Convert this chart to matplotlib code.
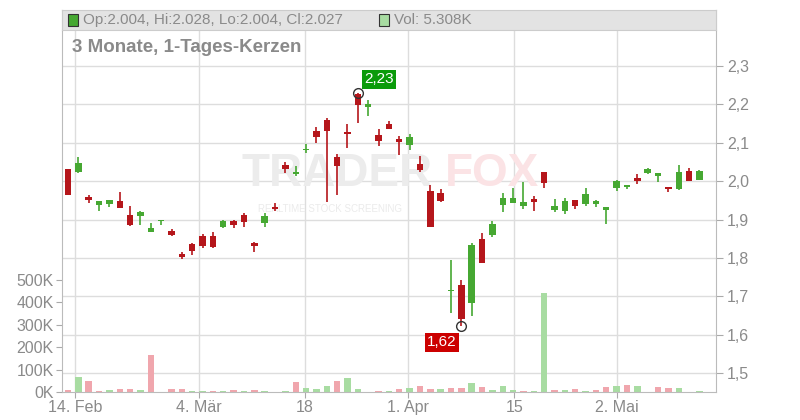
import matplotlib
matplotlib.use("Agg")
import matplotlib.pyplot as plt
from matplotlib.patches import Rectangle
import numpy as np

plt.rcParams['font.family'] = ['Liberation Sans', 'DejaVu Sans']

opens  = [2.031,2.024,1.958,1.938,1.941,1.948,1.911,1.910,1.868,1.897,1.870,1.810,1.836,1.857,1.857,1.880,1.896,1.911,1.838,1.891,
          1.932,2.043,2.019,2.082,2.130,2.159,2.063,2.128,2.226,2.193,2.120,2.150,2.110,2.095,2.044,1.974,1.969,1.713,1.731,1.683,
          1.849,1.859,1.938,1.943,1.935,1.954,2.023,1.925,1.923,1.950,1.941,1.941,1.925,1.983,1.986,2.008,2.022,2.014,1.984,1.980,2.026,2.004]
highs  = [2.033,2.063,1.963,1.948,1.950,1.971,1.935,1.922,1.890,1.898,1.875,1.815,1.840,1.862,1.867,1.898,1.898,1.916,1.841,1.917,
          1.944,2.050,2.039,2.097,2.141,2.165,2.070,2.150,2.229,2.211,2.136,2.157,2.117,2.123,2.065,1.990,1.979,1.794,1.744,1.840,
          1.864,1.896,1.969,1.983,1.998,1.962,2.023,1.953,1.956,1.950,1.982,1.950,1.932,2.003,1.990,2.020,2.034,2.021,1.984,2.042,2.034,2.028]
lows   = [1.965,2.022,1.943,1.923,1.933,1.930,1.883,1.886,1.868,1.886,1.857,1.797,1.808,1.826,1.826,1.877,1.878,1.881,1.816,1.881,
          1.923,2.022,2.013,2.074,2.100,1.946,1.963,2.087,2.152,2.170,2.092,2.137,2.069,2.082,2.024,1.881,1.946,1.657,1.624,1.650,
          1.787,1.855,1.920,1.942,1.928,1.923,1.983,1.920,1.914,1.927,1.935,1.933,1.889,1.975,1.980,1.993,2.019,1.998,1.972,1.978,2.001,2.004]
closes = [1.965,2.047,1.951,1.948,1.950,1.930,1.886,1.919,1.878,1.898,1.860,1.803,1.818,1.831,1.829,1.896,1.886,1.894,1.831,1.909,
          1.928,2.032,2.023,2.085,2.116,2.131,2.040,2.123,2.199,2.200,2.105,2.137,2.103,2.116,2.029,1.881,1.949,1.716,1.640,1.833,
          1.788,1.888,1.957,1.957,1.945,1.946,1.996,1.935,1.948,1.936,1.966,1.948,1.932,2.000,1.990,2.001,2.031,2.021,1.980,2.023,2.001,2.027]
volumes = [9,67,49,5,9,13,13,9,165,0,13,13,5,5,5,5,9,5,9,5,
           0,5,45,18,13,27,49,62,13,0,5,5,13,18,27,13,13,18,18,40,
           22,9,27,9,5,5,442,9,9,13,5,9,22,27,31,27,0,22,18,18,0,5]
vol_up = [0,1,0,0,1,0,0,1,0,0,0,0,1,1,0,1,0,1,0,1,
          0,1,0,1,1,1,0,1,1,0,0,1,0,1,0,0,1,0,0,1,
          0,1,1,1,0,1,1,0,1,0,1,0,0,1,0,1,0,0,0,1,0,1]
date_labels = ["14. Feb", "4. Mär", "18", "1. Apr", "15", "2. Mai"]
date_pos = [0.68, 12.66, 22.9, 32.8, 43.1, 53.0]
price_ticks = [1.5,1.6,1.7,1.8,1.9,2.0,2.1,2.2,2.3]
vol_ticks = [0,100,200,300,400,500]

UP = '#46a832'; DN = '#b5161b'
VUP = '#a8dca2'; VDN = '#f0a6ad'
GRID = '#dddddd'; TXT = '#8a8a8a'

fig = plt.figure(figsize=(8,4.2), dpi=100)
L, R, B, T = 62/800, 716/800, 1-392/420, 1-10/420
axv = fig.add_axes([L, B, R-L, T-B])
ax = fig.add_axes([L, B, R-L, T-B], sharex=axv)
ax.patch.set_alpha(0)

n = len(opens)
xs = np.arange(n)
w = 0.62
for i in range(n):
    if volumes[i] > 0:
        axv.bar(xs[i], volumes[i], width=w, color=VUP if vol_up[i] else VDN, zorder=2)
axv.set_ylim(0, 382/22.4*100)
axv.set_yticks(vol_ticks)
axv.set_yticklabels([f"{v}K" for v in vol_ticks])
axv.tick_params(axis='y', colors='#aaaaaa', labelcolor=TXT, labelsize=11.5, length=4, pad=2)
axv.tick_params(axis='x', length=0)

for p in price_ticks:
    axv.axhline((p-1.451)/(2.446-1.451)*382/22.4*100, color=GRID, lw=1, zorder=0)
for d in date_pos:
    axv.axvline(d, color=GRID, lw=1, zorder=0)

# watermark (behind everything)
axv.text(0.275, 0.57, "TRADER", transform=axv.transAxes, fontsize=33, fontweight='bold',
         color='#ececec', zorder=1, ha='left', va='center', fontstretch='condensed')
axv.text(0.585, 0.57, "FOX", transform=axv.transAxes, fontsize=33, fontweight='bold',
         color='#fbe3e5', zorder=1, ha='left', va='center')
axv.text(0.30, 0.47, "REALTIME STOCK SCREENING", transform=axv.transAxes, fontsize=7,
         color='#ebebeb', zorder=1)

for i in range(n):
    o, h, l, c = opens[i], highs[i], lows[i], closes[i]
    col = UP if c >= o else DN
    ax.vlines(xs[i], l, h, color=col, lw=1.2, zorder=3)
    bh = max(abs(c-o), 0.003)
    ax.add_patch(Rectangle((xs[i]-w/2, min(o,c)), w, bh, color=col, zorder=4, lw=0))
ax.set_ylim(1.451, 2.446)
ax.set_xlim(-0.58, 62.6)
ax.yaxis.tick_right()
ax.set_yticks(price_ticks)
ax.set_yticklabels([f"{p:.1f}".replace('.', ',') for p in price_ticks])
ax.tick_params(axis='y', colors='#aaaaaa', labelcolor=TXT, labelsize=11.5, length=5, pad=3)
ax.set_xticks(date_pos)
ax.set_xticklabels(date_labels)
ax.tick_params(axis='x', colors='#aaaaaa', labelcolor=TXT, labelsize=11.5, length=4, pad=2)
axv.tick_params(axis='x', labelbottom=False)
for a in (ax, axv):
    for s in a.spines.values():
        s.set_visible(False)
for k in ('right', 'bottom', 'left'):
    ax.spines[k].set_visible(True); ax.spines[k].set_color('#bbbbbb')

hi_i = int(np.argmax(highs)); lo_i = int(np.argmin(lows))
ax.plot(hi_i, highs[hi_i], 'o', mfc='none', mec='#333333', ms=7, zorder=6)
ax.plot(lo_i, lows[lo_i], 'o', mfc='none', mec='#333333', ms=7, zorder=6)
ax.annotate(f"{highs[hi_i]:.2f}".replace('.', ','), (hi_i, highs[hi_i]), xytext=(15, 5), textcoords='offset points',
            color='white', fontsize=11, ha='center', va='bottom',
            bbox=dict(boxstyle='square,pad=0.15', fc='#0a9b0a', ec='none'), zorder=7)
ax.annotate(f"{lows[lo_i]:.2f}".replace('.', ','), (lo_i, lows[lo_i]), xytext=(-14, -7), textcoords='offset points',
            color='white', fontsize=11, ha='center', va='top',
            bbox=dict(boxstyle='square,pad=0.15', fc='#cc0000', ec='none'), zorder=7)

hdr = fig.add_axes([L, 1-30/420, R-L, 20/420])
hdr.set_facecolor('#e3e3e3'); hdr.set_xticks([]); hdr.set_yticks([])
for s in hdr.spines.values(): s.set_color('#cccccc')
hdr.set_xlim(0, 654); hdr.set_ylim(0, 20)
hdr.add_patch(Rectangle((6, 4.5), 10, 11, fc=UP, ec='#333333', lw=0.8))
hdr.text(21, 10, f"Op:{opens[-1]:.3f}, Hi:{highs[-1]:.3f}, Lo:{lows[-1]:.3f}, Cl:{closes[-1]:.3f}",
         va='center', fontsize=11, color=TXT)
hdr.add_patch(Rectangle((317, 4.5), 10, 11, fc=VUP, ec='#333333', lw=0.8))
hdr.text(332, 10, "Vol: 5.308K", va='center', fontsize=11, color=TXT)
fig.text(72/800, 1-47/420, "3 Monate, 1-Tages-Kerzen", fontsize=13.5, fontweight='bold', color=TXT, va='center')

fig.savefig("out.png", dpi=100)
